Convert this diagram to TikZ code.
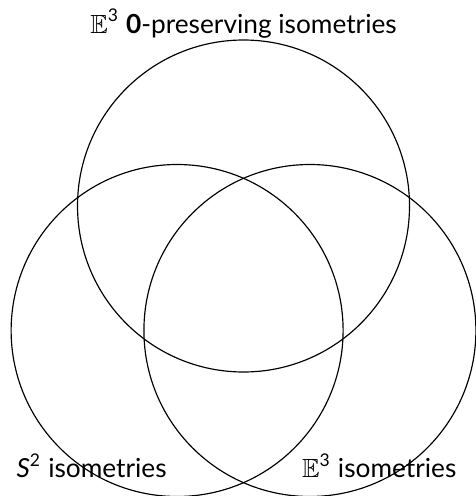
\documentclass[tikz,border=0pt]{standalone}
\usepackage{amsmath}
\usepackage{amssymb}
\usepackage{fontspec}
\setmainfont{Lato}
\usepackage{tikz}
\usetikzlibrary{positioning}

\begin{document}
\begin{tikzpicture}[
  font=\fontsize{9}{11}\selectfont,
  set/.style={draw, circle, line width=0.4pt, minimum size=4cm, inner sep=0pt},
  lbl/.style={inner sep=0pt}
]
\useasboundingbox (-2.934,-1.994) rectangle (2.789,3.982);

\node[set] (origin)  at (0,1.5)   {};
\node[set] (sphere)  at (-0.8,0)  {};
\node[set] (space)   at (0.8,0)   {};

\node[lbl, anchor=base] (originlbl) at (0,3.584)
  {$\mathbb{E}^{\text{3}}$ \textbf{0}-preserving isometries};
\node[lbl, anchor=base west] (spherelbl) at (-2.741,-1.777)
  {$\textit{S}^{\text{2}}$ isometries};
\node[lbl, anchor=base east] (spacelbl) at (2.572,-1.777)
  {$\mathbb{E}^{\text{3}}$ isometries};

\end{tikzpicture}
\end{document}
